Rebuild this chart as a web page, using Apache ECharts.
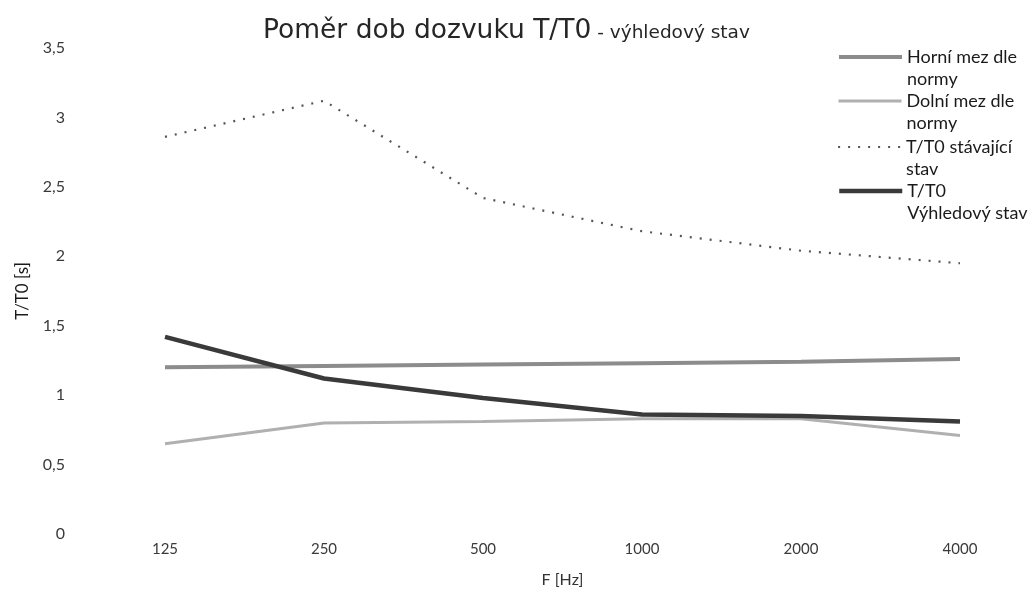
<!DOCTYPE html>
<html>
<head>
<meta charset="utf-8">
<script src="https://cdn.jsdelivr.net/npm/echarts@6/dist/echarts.min.js"></script>
<style>
html,body{margin:0;padding:0;background:#fff;}
#chart{width:1034px;height:594px;}
</style>
</head>
<body>
<div id="chart"></div>
<script>
const categories = ['125', '250', '500', '1000', '2000', '4000'];
const horniMez = [1.20, 1.21, 1.22, 1.23, 1.24, 1.26];
const dolniMez = [0.65, 0.80, 0.81, 0.83, 0.83, 0.71];
const stavajici = [2.86, 3.12, 2.42, 2.18, 2.04, 1.95];
const vyhledovy = [1.42, 1.12, 0.98, 0.86, 0.85, 0.81];
const seriesNames = ['Horní mez dle\nnormy', 'Dolní mez dle\nnormy', 'T/T0 stávající\nstav', 'T/T0\nVýhledový stav'];
const yTicks = { min: 0, max: 3.5, interval: 0.5 };

const FONT = 'Lato, "Open Sans", sans-serif';
const legendTops = [24, 68, 114, 158];
const lineStyles = [
  { color: '#8c8c8c', width: 4 },
  { color: '#b0b0b0', width: 3 },
  { color: '#555555', width: 2.2, type: [2, 8] },
  { color: '#3a3a3a', width: 4.5 }
];
const legends = seriesNames.map((n, i) => ({
  orient: 'vertical',
  left: 837,
  top: legendTops[i],
  padding: 0,
  itemWidth: 63,
  itemHeight: 14,
  itemGap: 0,
  itemStyle: { opacity: 0 },
  lineStyle: lineStyles[i],
  formatter: name => '\n' + name,
  textStyle: { fontSize: 18, color: '#1a1a1a', lineHeight: 22, fontFamily: FONT },
  data: [n]
}));

const chart = echarts.init(document.getElementById('chart'));
chart.setOption({
  backgroundColor: '#ffffff',
  animation: false,
  textStyle: { fontFamily: FONT },
  title: {
    text: '{a|Poměr dob dozvuku T/T0}{b| - výhledový stav}',
    left: 258,
    top: 13,
    textStyle: {
      rich: {
        a: { fontSize: 26.5, color: '#262626', fontFamily: '"DejaVu Sans"', fontWeight: 'normal' },
        b: { fontSize: 18.5, color: '#262626', fontFamily: '"DejaVu Sans"', fontWeight: 'normal', padding: [4, 0, 0, 0] }
      }
    }
  },
  legend: legends,
  grid: { left: 165, right: 74, top: 48, bottom: 60 },
  xAxis: {
    type: 'category',
    data: categories,
    boundaryGap: false,
    name: 'F [Hz]',
    nameLocation: 'middle',
    nameGap: 38,
    nameTextStyle: { fontSize: 16, color: '#333' },
    axisLine: { show: false },
    axisTick: { show: false },
    axisLabel: { fontSize: 15, color: '#3a3a3a', margin: 8 },
    splitLine: { show: false }
  },
  yAxis: {
    type: 'value',
    min: yTicks.min,
    max: yTicks.max,
    interval: yTicks.interval,
    name: 'T/T0 [s]',
    nameLocation: 'middle',
    nameGap: 134,
    nameRotate: 90,
    nameTextStyle: { fontSize: 17, color: '#1a1a1a' },
    axisLine: { show: false },
    axisTick: { show: false },
    splitLine: { show: false },
    axisLabel: {
      fontSize: 16, color: '#3a3a3a', margin: 100,
      formatter: v => String(v).replace('.', ',')
    }
  },
  series: [
    { name: seriesNames[0], type: 'line', data: horniMez, symbol: 'none', lineStyle: lineStyles[0] },
    { name: seriesNames[1], type: 'line', data: dolniMez, symbol: 'none', lineStyle: lineStyles[1] },
    { name: seriesNames[2], type: 'line', data: stavajici, symbol: 'none', lineStyle: lineStyles[2] },
    { name: seriesNames[3], type: 'line', data: vyhledovy, symbol: 'none', lineStyle: lineStyles[3] }
  ]
});
</script>
</body>
</html>
